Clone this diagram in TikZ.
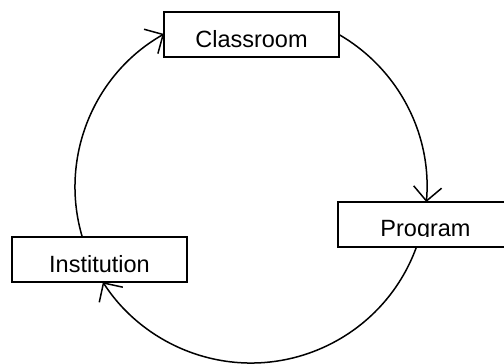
\documentclass[tikz,border=0pt]{standalone}
\usepackage{fontspec}
\setmainfont{Liberation Sans}
\usetikzlibrary{arrows.meta}
\begin{document}
\begin{tikzpicture}[x=1pt,y=1pt,
  lblfont/.style={font=\fontsize{23.5pt}{28pt}\selectfont},
  box/.style={draw, line width=1.7pt, minimum width=175pt, minimum height=45pt,
    inner sep=0pt, text height=25pt, text depth=0pt, lblfont},
  lbl/.style={inner sep=0pt, lblfont},
  flow/.style={line width=1.5pt, -{Straight Barb[length=14pt,width=28pt]}}]
\useasboundingbox (0,0) rectangle (504,-364);
\coordinate (ctr) at (251,-187);
% boxes
\node[box] (cls) at (251.5,-34.5) {Classroom};
\node[box] (prg) at (425.5,-224.5) {};
\node[box] (ins) at (99.5,-259.5) {Institution};
\begin{scope}
  \clip (338,-203) rectangle (515,-236.3);
  \node[lbl, anchor=base] (prgtext) at (425.5,-236) {Program};
\end{scope}
% cycle arcs
\draw[flow] (ctr) ++(60:176) arc[start angle=60, end angle=-4.9, radius=176];
\draw[flow] (ctr) ++(-19.9:176) arc[start angle=-19.9, end angle=-147.3, radius=176];
\draw[flow] (ctr) ++(196.5:176) arc[start angle=196.5, end angle=119.6, radius=176];
\end{tikzpicture}
\end{document}
